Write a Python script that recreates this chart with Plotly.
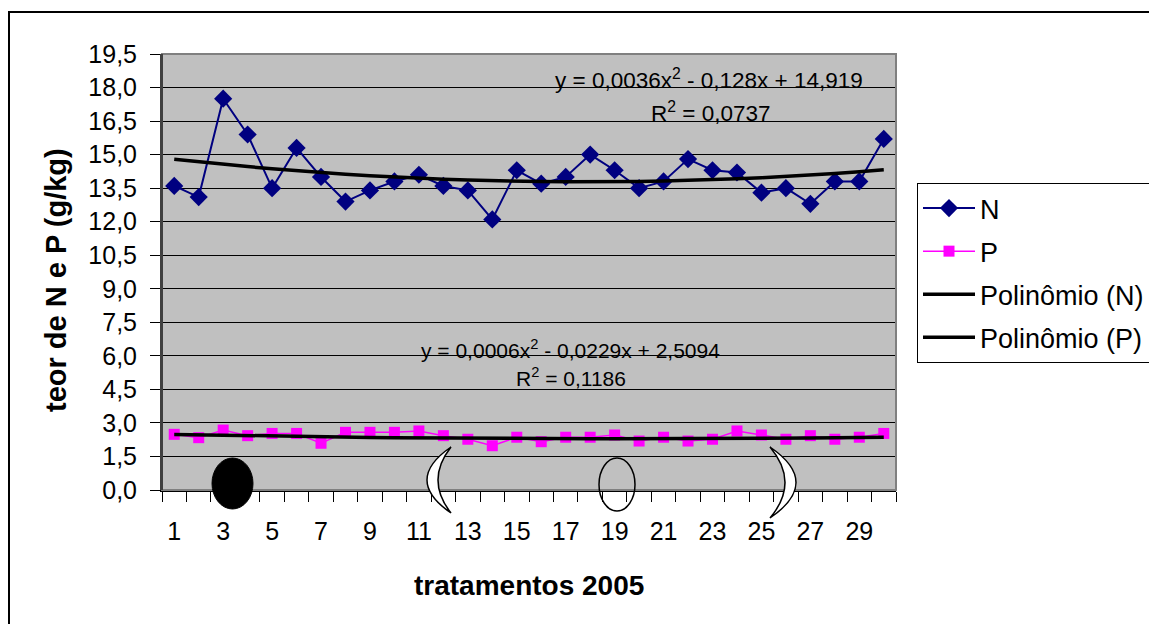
import numpy as np
import plotly.graph_objects as go

# tratamentos 2005
tratamentos = list(range(1, 31))
x_ticklabels = [str(v) for v in range(1, 31, 2)]

# teor de N e P (g/kg)
teor_n = [13.6, 13.1, 17.5, 15.9, 13.5, 15.3, 14.0, 12.9, 13.4, 13.8,
          14.1, 13.6, 13.4, 12.1, 14.3, 13.7, 14.0, 15.0, 14.3, 13.5,
          13.8, 14.8, 14.3, 14.2, 13.3, 13.5, 12.8, 13.8, 13.8, 15.7]
teor_p = [2.49, 2.34, 2.68, 2.43, 2.53, 2.53, 2.09, 2.58, 2.58, 2.58,
          2.64, 2.43, 2.27, 1.98, 2.36, 2.16, 2.36, 2.36, 2.46, 2.19,
          2.36, 2.19, 2.27, 2.64, 2.46, 2.27, 2.43, 2.27, 2.36, 2.53]

# polynomial trendlines as printed on the chart
coef_n = [0.0036, -0.128, 14.919]
coef_p = [0.0006, -0.0229, 2.5094]
eq_n = "y = 0,0036x<sup>2</sup> - 0,128x + 14,919"
eq_p = "y = 0,0006x<sup>2</sup> - 0,0229x + 2,5094"
r2_n = "R<sup>2</sup> = 0,0737"
r2_p = "R<sup>2</sup> = 0,1186"

FONT = "Liberation Sans"

# the page puts the figure 8px in from the corner; plot area in page pixels
OFF = 8
L, T, W, H = 162, 54, 734, 436
FIG_W, FIG_H = 1157 - OFF, 624 - OFF


def px(x):
    return (x - L) / W


def py(y):
    return (T + H - y) / H


fig = go.Figure()

fig.add_trace(go.Scatter(
    x=tratamentos, y=teor_n, name="N", mode="lines+markers",
    line=dict(color="#000080", width=2),
    marker=dict(symbol="diamond", size=14, color="#000080"),
    legendgroup="a",
))
fig.add_trace(go.Scatter(
    x=tratamentos, y=teor_p, name="P", mode="lines+markers",
    line=dict(color="#FF00FF", width=1.5),
    marker=dict(symbol="square", size=11, color="#FF00FF"),
    legendgroup="b",
))
fig.add_trace(go.Scatter(
    x=tratamentos, y=np.polyval(coef_n, tratamentos), name="Polinômio (N)",
    mode="lines", line=dict(color="black", width=3.5), legendgroup="c",
))
fig.add_trace(go.Scatter(
    x=tratamentos, y=np.polyval(coef_p, tratamentos), name="Polinômio (P)",
    mode="lines", line=dict(color="black", width=3.5), legendgroup="d",
))

shapes = [
    # outer chart border
    dict(type="rect", xref="paper", yref="paper",
         x0=px(9), x1=px(1170), y0=py(640), y1=py(12),
         line=dict(color="black", width=2)),
    # plot area border
    dict(type="rect", xref="paper", yref="paper", x0=0, x1=1, y0=0, y1=1,
         line=dict(color="#808080", width=2), layer="above"),
    dict(type="line", xref="paper", yref="paper", x0=0, x1=0, y0=0, y1=1,
         line=dict(color="#404040", width=2)),
    # black ellipse
    dict(type="circle", xref="paper", yref="paper",
         x0=px(212), x1=px(253), y0=py(509), y1=py(458),
         fillcolor="black", line=dict(color="black", width=1)),
    # open ellipse
    dict(type="circle", xref="paper", yref="paper",
         x0=px(599), x1=px(635), y0=py(511), y1=py(458),
         line=dict(color="black", width=1.5)),
]


def crescent(tx, ty0, ty1, outer, inner):
    cy = (ty0 + ty1) / 2
    return (f"M {px(tx)} {py(ty0)} Q {px(2 * outer - tx)} {py(cy)} {px(tx)} {py(ty1)} "
            f"Q {px(2 * inner - tx)} {py(cy)} {px(tx)} {py(ty0)} Z")


shapes.append(dict(type="path", xref="paper", yref="paper",
                   path=crescent(451, 447, 513, 427, 438),
                   fillcolor="white", line=dict(color="black", width=1.5)))
shapes.append(dict(type="path", xref="paper", yref="paper",
                   path=crescent(770, 447, 518, 796, 785),
                   fillcolor="white", line=dict(color="black", width=1.5)))

annotations = [
    dict(text=eq_n, x=px(709), y=py(79), font=dict(size=22.5)),
    dict(text=r2_n, x=px(710), y=py(112), font=dict(size=22.5)),
    dict(text=eq_p, x=px(570), y=py(349), font=dict(size=21)),
    dict(text=r2_p, x=px(571), y=py(377), font=dict(size=21)),
]
for a in annotations:
    a.update(xref="paper", yref="paper", showarrow=False,
             xanchor="center", yanchor="middle")
    a["font"].update(family=FONT, color="black")

annotations.append(dict(text="<b>tratamentos 2005</b>", xref="paper", yref="paper",
                        x=px(529), y=py(585), showarrow=False,
                        xanchor="center", yanchor="middle",
                        font=dict(family=FONT, size=28, color="black")))
annotations.append(dict(text="<b>teor de N e P (g/kg)</b>", xref="paper", yref="paper",
                        x=px(56), y=py(280), showarrow=False, textangle=-90,
                        xanchor="center", yanchor="middle",
                        font=dict(family=FONT, size=29, color="black")))

fig.update_layout(
    width=FIG_W, height=FIG_H,
    margin=dict(l=L - OFF, r=FIG_W - (L - OFF) - W, t=T - OFF,
                b=FIG_H - (T - OFF) - H, autoexpand=False),
    paper_bgcolor="white", plot_bgcolor="#C0C0C0",
    separators=", ",
    font=dict(family=FONT, size=25, color="black"),
    showlegend=True,
    legend=dict(x=px(917), y=py(183), xanchor="left", yanchor="top",
                bordercolor="black", borderwidth=1, bgcolor="white",
                font=dict(family=FONT, size=27), tracegroupgap=5,
                itemwidth=52),
    shapes=shapes,
    annotations=annotations,
)

fig.update_xaxes(
    range=[0.5, 30.5], showgrid=False, zeroline=False,
    tickvals=list(range(1, 31, 2)), ticktext=x_ticklabels, ticks="",
    ticklabelstandoff=18,
    showline=True, linecolor="black", linewidth=1.5,
    minor=dict(tickvals=[v - 0.5 for v in tratamentos] + [30.5],
               ticks="outside", ticklen=10, tickcolor="black", showgrid=False),
    tickfont=dict(family=FONT, size=25, color="black"),
)
fig.update_yaxes(
    range=[0, 19.5], tick0=0, dtick=1.5, tickformat=".1f",
    showgrid=True, gridcolor="black", gridwidth=1, zeroline=False,
    ticks="outside", ticklen=10, tickcolor="black",
    ticklabelstandoff=8,
    showline=True, linecolor="#404040", linewidth=2,
    tickfont=dict(family=FONT, size=25, color="black"),
)

fig.write_html("out.html")
